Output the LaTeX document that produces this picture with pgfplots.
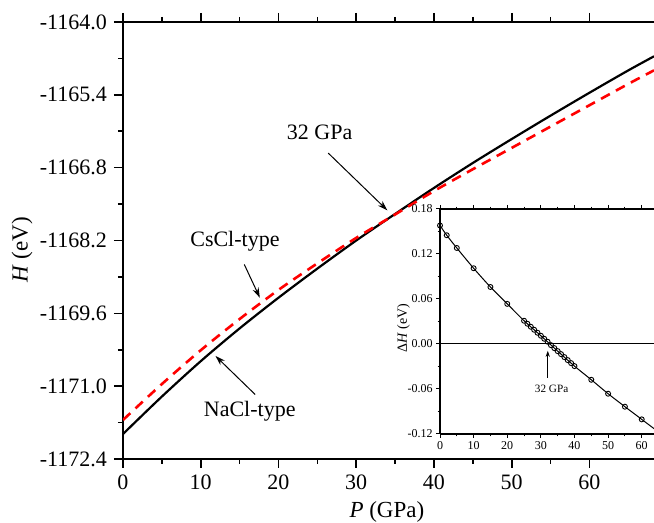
\documentclass[border=0pt]{standalone}
\usepackage{fontspec}
\setmainfont{Liberation Serif}
\usepackage{pgfplots}
\pgfplotsset{compat=1.18}
\usetikzlibrary{arrows.meta}

\pgfplotstableread{
P H
0 -1171.92
5 -1171.20
10 -1170.52
15 -1169.89
20 -1169.30
25 -1168.74
30 -1168.20
35 -1167.69
40 -1167.19
45 -1166.71
50 -1166.25
55 -1165.80
60 -1165.36
65 -1164.93
68.3 -1164.66
}\nacl

\pgfplotstableread{
P H
0 -1171.65
5 -1170.96
10 -1170.31
15 -1169.71
20 -1169.15
25 -1168.64
30 -1168.15
35 -1167.70
40 -1167.25
45 -1166.83
50 -1166.42
55 -1166.01
60 -1165.60
65 -1165.19
68.3 -1164.93
}\cscl

\pgfplotstableread{
P dH
0 0.158
2 0.145
5 0.128
10 0.101
15 0.076
20 0.0535
25 0.031
26 0.027
27 0.023
28 0.019
29 0.015
30 0.011
31 0.007
32 0.003
33 -0.0015
34 -0.0055
35 -0.0095
36 -0.0135
37 -0.0175
38 -0.0215
39 -0.0255
40 -0.0295
45 -0.0477
50 -0.0663
55 -0.0836
60 -0.1005
}\dH

\begin{document}
\begin{tikzpicture}
\path[use as bounding box] (-61.5pt,-32pt) rectangle (265.5pt,229.5pt);
\begin{axis}[
  name=main,
  at={(0pt,0pt)}, anchor=south west,
  scale only axis, width=265.5pt, height=218.5pt,
  xmin=0, xmax=68.3, ymin=-1172.4, ymax=-1164.0,
  axis x line*=box, axis y line*=left,
  axis line style={line width=0.9pt},
  xtick={0,10,20,30,40,50,60},
  minor x tick num=1,
  ytick={-1172.4,-1171.0,-1169.6,-1168.2,-1166.8,-1165.4,-1164.0},
  yticklabels={-1172.4,-1171.0,-1169.6,-1168.2,-1166.8,-1165.4,-1164.0},
  minor y tick num=1,
  tick align=outside,
  major tick length=4.5pt, minor tick length=2.5pt,
  every tick/.style={black, line width=0.8pt},
  tick label style={font=\fontsize{11}{13}\selectfont},
  /pgf/number format/assume math mode=true,
  every axis x label/.style={at={(axis description cs:0.497,-0.121)}, anchor=center, font=\fontsize{11.5}{13}\selectfont},
  every axis y label/.style={at={(axis description cs:-0.19,0.478)}, rotate=90, anchor=center, font=\fontsize{11.5}{13}\selectfont},
  xlabel={\textit{P} (GPa)},
  ylabel={\textit{H} (eV)},
]
\addplot[black, line width=1.1pt, smooth] table[x=P,y=H] {\nacl};
\addplot[red, line width=1.3pt, dash pattern=on 5pt off 3.5pt, smooth] table[x=P,y=H] {\cscl};
\node[font=\fontsize{11}{13}\selectfont] at (axis cs:25.3,-1166.13) {32 GPa};
\draw[line width=0.5pt, -{Stealth[length=5pt,width=3.2pt]}] (axis cs:26.4,-1166.52) -- (axis cs:34.0,-1167.62);
\node[font=\fontsize{11}{13}\selectfont] at (axis cs:14.4,-1168.22) {CsCl-type};
\draw[line width=0.5pt, -{Stealth[length=5pt,width=3.2pt]}] (axis cs:15.6,-1168.66) -- (axis cs:17.6,-1169.30);
\node[font=\fontsize{11}{13}\selectfont] at (axis cs:16.3,-1171.49) {NaCl-type};
\draw[line width=0.5pt, -{Stealth[length=5pt,width=3.2pt]}] (axis cs:17.0,-1171.16) -- (axis cs:11.9,-1170.42);
\end{axis}

\begin{axis}[
  name=inset,
  at={(158.5pt,12.5pt)}, anchor=south west,
  scale only axis, width=107pt, height=112.5pt,
  xmin=0, xmax=63.65, ymin=-0.12, ymax=0.18,
  axis x line*=box, axis y line*=left,
  axis line style={line width=0.6pt},
  axis background/.style={fill=white},
  clip mode=individual,
  xtick={0,10,20,30,40,50,60},
  minor x tick num=1,
  ytick={-0.12,-0.06,0,0.06,0.12,0.18},
  yticklabels={-0.12,-0.06,0.00,0.06,0.12,0.18},
  minor y tick num=1,
  tick align=outside,
  major tick length=2pt, minor tick length=1.2pt,
  every tick/.style={black, line width=0.5pt},
  tick label style={font=\fontsize{6}{7}\selectfont, inner sep=1.5pt},
  /pgf/number format/assume math mode=true,
  every axis y label/.style={at={(axis description cs:-0.17,0.471)}, rotate=90, anchor=center, font=\fontsize{7}{8}\selectfont},
  ylabel={Δ\textit{H} (eV)},
]
\addplot[black, line width=0.5pt] coordinates {(0,0) (63.65,0)};
\addplot[black, line width=0.5pt, smooth] coordinates {(0,0.158)(2,0.145)(5,0.128)(10,0.101)(15,0.076)(20,0.0535)(25,0.031)(30,0.011)(35,-0.0095)(40,-0.0295)(45,-0.0477)(50,-0.0663)(55,-0.0836)(60,-0.1005)(64,-0.1140)};
\addplot[only marks, mark=o, mark size=1.25pt, mark options={black, line width=0.45pt, fill=white}] table[x=P,y=dH] {\dH};
\draw[line width=0.5pt, -{Stealth[length=3pt,width=2pt]}] (axis cs:32.05,-0.045) -- (axis cs:32.05,-0.009);
\node[font=\fontsize{5.6}{7}\selectfont] at (axis cs:33.2,-0.0597) {32 GPa};
\end{axis}
\end{tikzpicture}
\end{document}
